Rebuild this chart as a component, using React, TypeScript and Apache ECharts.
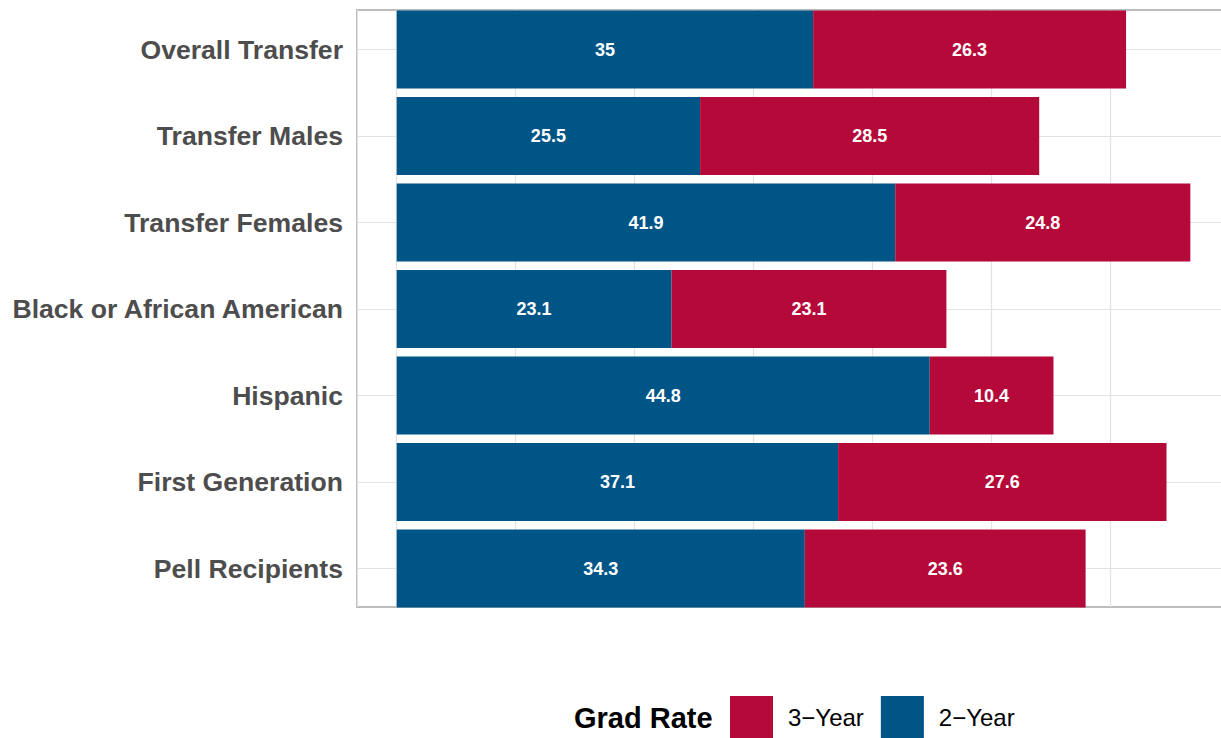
import React, { useEffect, useRef } from "react";
import * as echarts from "echarts";

const categories = [
  "Overall Transfer",
  "Transfer Males",
  "Transfer Females",
  "Black or African American",
  "Hispanic",
  "First Generation",
  "Pell Recipients",
];
const twoYear = [35, 25.5, 41.9, 23.1, 44.8, 37.1, 34.3];
const threeYear = [26.3, 28.5, 24.8, 23.1, 10.4, 27.6, 23.6];
const seriesNames = ["3\u2212Year", "2\u2212Year"];
const legendTitle = "Grad Rate";

const BLUE = "#005587";
const RED = "#B5093A";
const FONT = "'Liberation Sans', Arial, Helvetica, sans-serif";

export default function App() {
  const ref = useRef<HTMLDivElement>(null);
  useEffect(() => {
    if (!ref.current) return;
    const chart = echarts.init(ref.current, null, { renderer: "svg" });
    const barLabel = {
      show: true,
      position: "inside",
      color: "#ffffff",
      fontWeight: "bold",
      fontSize: 18,
      fontFamily: FONT,
    };
    const gridLine = { color: "#e2e2e2", width: 1.2 };
    chart.setOption({
      animation: false,
      backgroundColor: "#ffffff",
      grid: [
        {
          left: 357,
          width: 873,
          top: 10,
          height: 597,
          show: true,
          borderColor: "#bdbdbd",
          borderWidth: 2,
          backgroundColor: "transparent",
          outerBoundsMode: "none",
          containLabel: false,
        },
        {
          left: 357,
          width: 873,
          top: 6.25,
          height: 605.5,
          outerBoundsMode: "none",
          containLabel: false,
        },
      ],
      xAxis: [
        {
          gridIndex: 0,
          type: "value",
          min: -3.335,
          max: 70.035,
          splitNumber: 7,
          axisLabel: { show: false },
          axisLine: { show: false },
          axisTick: { show: false },
          splitLine: { show: true, lineStyle: gridLine },
        },
        { gridIndex: 1, type: "value", min: -3.335, max: 70.035, show: false },
      ],
      yAxis: [
        { gridIndex: 0, type: "value", show: false },
        {
          gridIndex: 1,
          type: "category",
          inverse: true,
          data: categories,
          axisLine: { show: false },
          axisTick: { show: false },
          axisLabel: {
            margin: 14,
            fontSize: 26.6,
            fontWeight: "bold",
            color: "#4d4d4d",
            fontFamily: FONT,
          },
          splitLine: { show: true, alignWithLabel: true, lineStyle: gridLine },
        },
      ],
      legend: {
        left: 730,
        top: 696,
        padding: 0,
        itemWidth: 43,
        itemHeight: 42,
        itemGap: 17,
        icon: "rect",
        data: seriesNames,
        textStyle: {
          fontSize: 24,
          color: "#000000",
          fontFamily: FONT,
          padding: [0, 0, 0, 10],
        },
      },
      graphic: [
        {
          type: "text",
          x: 574,
          y: 718,
          style: {
            text: legendTitle,
            fontSize: 29,
            fontWeight: "bold",
            fill: "#000000",
            fontFamily: FONT,
            verticalAlign: "middle",
          },
        },
      ],
      series: [
        {
          name: seriesNames[1],
          type: "bar",
          xAxisIndex: 1,
          yAxisIndex: 1,
          stack: "total",
          data: twoYear,
          barCategoryGap: "10%",
          itemStyle: { color: BLUE },
          label: barLabel,
        },
        {
          name: seriesNames[0],
          type: "bar",
          xAxisIndex: 1,
          yAxisIndex: 1,
          stack: "total",
          data: threeYear,
          barCategoryGap: "10%",
          itemStyle: { color: RED },
          label: barLabel,
        },
      ],
    });
    return () => chart.dispose();
  }, []);
  return (
    <div
      ref={ref}
      style={{ position: "fixed", left: 0, top: 0, width: 1221, height: 738 }}
    />
  );
}
